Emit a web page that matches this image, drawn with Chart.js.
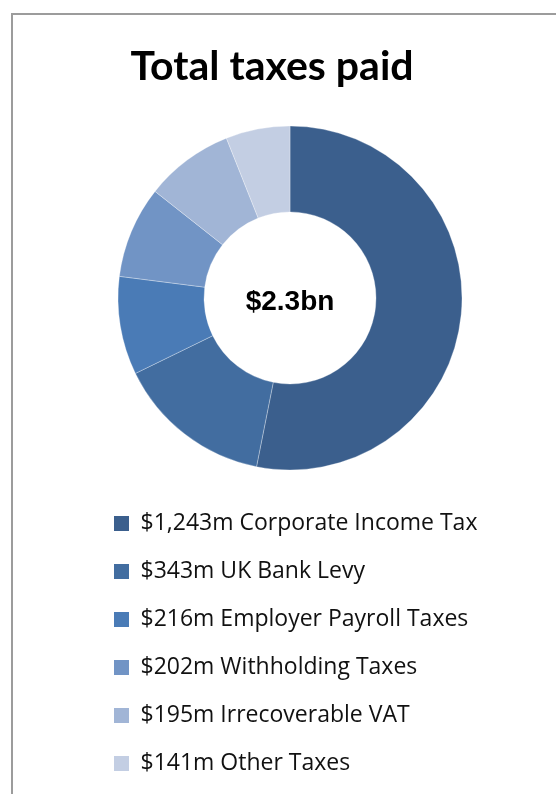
<!DOCTYPE html>
<html>
<head>
<meta charset="utf-8">
<script src="https://cdn.jsdelivr.net/npm/chart.js@4/dist/chart.umd.min.js"></script>
<style>
    body { margin: 0; background: #fff; overflow: hidden; }
    #wrap { position: relative; width: 556px; height: 794px; }
    #frame {
        position: absolute; left: 11px; top: 13px; width: 700px; height: 900px;
        border-left: 2px solid #9c9c9c; border-top: 2px solid #9c9c9c;
    }
    #chart { position: absolute; left: 0; top: 0; }
</style>
</head>
<body>
<div id="wrap">
    <div id="frame"></div>
    <canvas id="chart" width="556" height="794"></canvas>
</div>
<script>
// taxes paid, $m
const taxTypes = ['Corporate Income Tax', 'UK Bank Levy', 'Employer Payroll Taxes', 'Withholding Taxes', 'Irrecoverable VAT', 'Other Taxes'];
const amounts = [1243, 343, 216, 202, 195, 141];
const sliceColors = ['#3b5f8d', '#426da0', '#4a7bb6', '#7194c5', '#a1b5d6', '#c3cee3'];
const chartTitle = 'Total taxes paid';

const legendTexts = amounts.map((v, i) => '$' + v.toLocaleString('en-US') + 'm ' + taxTypes[i]);
const totalBn = amounts.reduce((a, b) => a + b, 0) / 1000;
const centerLabel = '$' + totalBn.toFixed(1) + 'bn';

// title + centre label drawn straight on the canvas
const textPlugin = {
    id: 'textPlugin',
    afterDraw(chart) {
        const ctx = chart.ctx;
        const area = chart.chartArea;
        ctx.save();
        ctx.fillStyle = '#000';
        ctx.textAlign = 'center';
        ctx.textBaseline = 'alphabetic';
        ctx.font = 'bold 41px Lato, sans-serif';
        ctx.fillText(chartTitle, 272, 80);
        ctx.font = 'bold 28px "Liberation Sans", Arial, sans-serif';
        ctx.fillText(centerLabel, (area.left + area.right) / 2, 310);
        ctx.restore();
    }
};

const baseLabels = Chart.overrides.doughnut.plugins.legend.labels.generateLabels;

new Chart(document.getElementById('chart'), {
    type: 'doughnut',
    data: {
        labels: legendTexts,
        datasets: [{
            data: amounts,
            backgroundColor: sliceColors,
            borderColor: 'rgba(255,255,255,0.3)',
            borderWidth: 1,
            radius: 172,
            cutout: '50%'
        }]
    },
    options: {
        responsive: false,
        animation: false,
        layout: { padding: { top: 109, bottom: 9, left: 89, right: 65 } },
        plugins: {
            tooltip: { enabled: false },
            legend: {
                position: 'bottom',
                align: 'start',
                labels: {
                    boxWidth: 15,
                    boxHeight: 15,
                    padding: 25,
                    color: '#111',
                    font: { family: '"Open Sans", sans-serif', size: 23 },
                    generateLabels(chart) {
                        return baseLabels(chart).map(item => ({ ...item, lineWidth: 0 }));
                    }
                }
            }
        }
    },
    plugins: [textPlugin]
});
</script>
</body>
</html>
